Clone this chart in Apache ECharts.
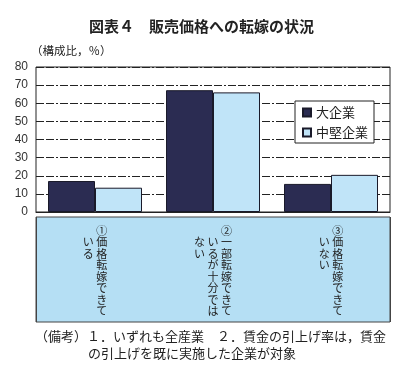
<!DOCTYPE html>
<html><head><meta charset="utf-8">
<script src="https://cdn.jsdelivr.net/npm/echarts@6/dist/echarts.min.js"></script>
<style>html,body{margin:0;padding:0;background:#fff}#c{width:403px;height:366px}</style>
</head><body><div id="c"></div>
<script>
const categories = ['①価格転嫁できている', '②一部転嫁できているが十分ではない', '③価格転嫁できていない'];
const labelHeads = ['①', '②', '③'];
const labelColumns = [
  ['価格転嫁できて', 'いる'],
  ['一部転嫁できて', 'いるが十分では', 'ない'],
  ['価格転嫁できて', 'いない']
];
const seriesNames = ['大企業', '中堅企業'];
const largeValues = [17.1, 67.2, 15.5];
const midValues = [13.4, 66.0, 20.5];
const yTicks = [0, 10, 20, 30, 40, 50, 60, 70, 80];
const titleText = '図表４　販売価格への転嫁の状況';
const unitText = '（構成比，％）';
const noteLines = ['（備考）１．いずれも全産業　２．賃金の引上げ率は，賃金', 'の引上げを既に実施した企業が対象'];

const FONT = '"Noto Sans CJK JP", "Noto Sans", sans-serif';
const BLANK = '\u3000';

function verticalLabel(value) {
  const i = categories.indexOf(value);
  const cols = labelColumns[i];
  const n = cols.length;
  const maxLen = Math.max.apply(null, cols.map(c => c.length));
  const rows = [];
  let r0 = '';
  for (let k = n - 1; k >= 0; k--) r0 += '{c|' + (k === 0 ? labelHeads[i] : BLANK) + '}';
  rows.push(r0);
  for (let j = 0; j < maxLen; j++) {
    let r = '';
    for (let k = n - 1; k >= 0; k--) {
      const ch = cols[k][j];
      r += '{c|' + (ch ? ch : BLANK) + '}';
    }
    rows.push(r);
  }
  return rows.join('\n');
}

const chart = echarts.init(document.getElementById('c'), null, {renderer: 'canvas'});
chart.setOption({
  animation: false,
  backgroundColor: '#fff',
  title: {
    text: titleText, left: 'center', top: 19, padding: 0,
    textStyle: {fontFamily: FONT, fontSize: 15, fontWeight: 'bold', color: '#222'}
  },
  legend: {
    data: seriesNames, orient: 'vertical', left: 295, top: 101,
    padding: [5, 6, 4, 7], itemGap: 7, itemWidth: 8, itemHeight: 8, itemTextGap: 5,
    borderColor: '#222', borderWidth: 1, backgroundColor: '#fff',
    icon: 'rect',
    textStyle: {fontFamily: FONT, fontSize: 13, color: '#222'}
  },
  grid: [
    {left: 36, right: 13, top: 67, height: 145, show: true, borderColor: '#222', borderWidth: 1, backgroundColor: '#fff'},
    {left: 36, right: 13, top: 217, height: 105, show: true, borderColor: '#444', borderWidth: 1, backgroundColor: '#b5dff4'}
  ],
  xAxis: [
    {
      type: 'category', data: categories, gridIndex: 0,
      axisLine: {show: true, lineStyle: {color: '#222', width: 1}},
      axisTick: {show: false},
      axisLabel: {
        show: true, margin: 13, interval: 0,
        formatter: verticalLabel,
        rich: {c: {width: 13.5, align: 'center', fontSize: 11, lineHeight: 11.5, height: 11.5, fontFamily: FONT, color: '#222'}}
      },
      z: 5
    },
    {
      type: 'category', data: categories, gridIndex: 1,
      axisLine: {show: false}, axisTick: {show: false}, axisLabel: {show: false},
      splitLine: {show: true, lineStyle: {color: '#444', width: 1}}
    }
  ],
  yAxis: [
    {
      type: 'value', gridIndex: 0, min: 0, max: 80, interval: 10,
      axisLine: {show: false}, axisTick: {show: false},
      axisLabel: {margin: 8, fontSize: 12, color: '#333', fontFamily: '"Liberation Sans", Arial, sans-serif',
        formatter: v => (yTicks.indexOf(v) >= 0 ? String(v) : '')},
      splitLine: {show: true, lineStyle: {color: '#222', width: 1, type: [8, 2, 8, 2, 2, 2]}}
    },
    {type: 'value', gridIndex: 1, show: false, min: 0, max: 1}
  ],
  series: [
    {
      name: seriesNames[0], type: 'bar', data: largeValues, xAxisIndex: 0, yAxisIndex: 0,
      barWidth: 47, barGap: '0%',
      itemStyle: {color: '#2b2c52', borderColor: '#1a1a2a', borderWidth: 1}
    },
    {
      name: seriesNames[1], type: 'bar', data: midValues, xAxisIndex: 0, yAxisIndex: 0,
      barWidth: 47, barGap: '0%',
      itemStyle: {color: '#c0e4f8', borderColor: '#1a1a2a', borderWidth: 1}
    }
  ],
  graphic: [
    {type: 'text', left: 31, top: 45, style: {text: unitText, fontFamily: FONT, fontSize: 11.5, fill: '#222'}},
    {type: 'text', left: 35, top: 330, style: {text: noteLines[0], fontFamily: FONT, fontSize: 13, fill: '#222'}},
    {type: 'text', left: 88, top: 347, style: {text: noteLines[1], fontFamily: FONT, fontSize: 13, fill: '#222'}}
  ]
});
</script></body></html>
